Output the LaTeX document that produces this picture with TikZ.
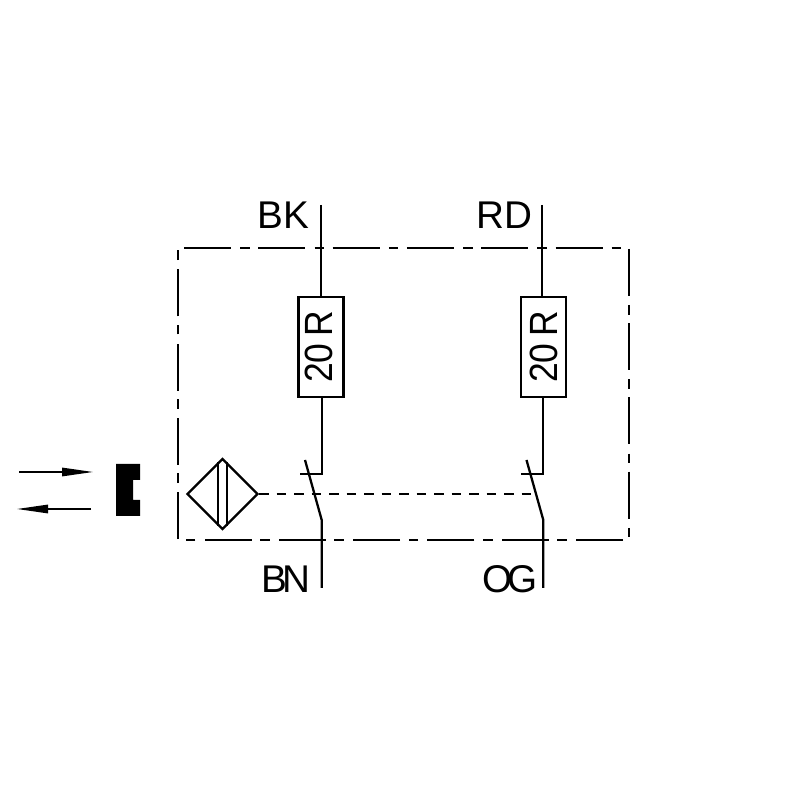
\documentclass[tikz,border=0pt]{standalone}
\usepackage{fontspec}
\setmainfont{Liberation Sans}
\newfontfamily\resfont[FakeStretch=0.9]{Liberation Sans}
\usetikzlibrary{arrows.meta,calc,shapes.geometric}
\tikzset{
  wire/.style={line width=0.65pt},
  frameline/.style={line width=0.42pt,dash pattern=on 0.47cm off 0.092cm on 0.096cm off 0.085cm,dash phase=0.683cm},
  linkline/.style={line width=0.42pt,dash pattern=on 0.095cm off 0.08cm},
  resistor/.style={draw,wire,rectangle,rotate=90,minimum width=1.005cm,minimum height=0.45cm,inner sep=0pt,font=\fontsize{11.2}{12}\resfont},
  wirelabel/.style={anchor=base east,inner sep=0pt,font=\fontsize{11}{12}\selectfont},
  motion/.style={line width=0.4pt,-{Triangle[length=0.31cm,width=0.085cm]}}
}
\begin{document}
\begin{tikzpicture}
\useasboundingbox (0,0) rectangle (8,8);
\coordinate (topA) at (3.21,5.95);
\coordinate (topB) at (5.42,5.95);
\coordinate (cornerA) at (3.217,3.26);
\coordinate (cornerB) at (5.433,3.26);
\coordinate (stubA) at (3.00,3.26);
\coordinate (stubB) at (5.21,3.26);
\coordinate (tipA) at (3.05,3.40);
\coordinate (tipB) at (5.265,3.40);
\coordinate (pivotA) at (3.217,2.80);
\coordinate (pivotB) at (5.433,2.80);
\coordinate (endA) at (3.217,2.12);
\coordinate (endB) at (5.433,2.12);
\coordinate (linkB) at (5.33,3.06);
\draw[frameline] (1.78,5.52) -- (6.29,5.52) -- (6.29,2.60) -- (1.78,2.60) -- cycle;
\node[resistor] (resA) at (3.21,4.53) {\raisebox{0.04cm}{20\kern0.07cm R}};
\node[resistor] (resB) at (5.435,4.53) {20\kern0.07cm R};
\draw[wire] (topA) -- (resA.east);
\draw[wire] (topB) -- (topB |- resB.east);
\draw[wire] (cornerA |- resA.west) -- (cornerA) -- (stubA);
\draw[wire] (cornerB |- resB.west) -- (cornerB) -- (stubB);
\draw[wire] (tipA) -- (pivotA) -- (endA);
\draw[wire] (tipB) -- (pivotB) -- (endB);
\node[draw,wire,diamond,aspect=1,minimum width=0.71cm,minimum height=0.71cm,inner sep=0pt] (sensor) at (2.225,3.06) {};
\draw[wire] ($(sensor.north)+(-0.045,-0.045)$) -- ($(sensor.south)+(-0.045,0.045)$);
\draw[wire] ($(sensor.north)+(0.045,-0.045)$) -- ($(sensor.south)+(0.045,0.045)$);
\draw[linkline] (sensor.east) -- (linkB);
\node[wirelabel] (labelBK) at (3.095,5.71) {BK};
\node[wirelabel] (labelRD) at (5.335,5.71) {RD};
\node[wirelabel] (labelBN) at (3.115,2.07) {B\kern-0.04cm N};
\node[wirelabel] (labelOG) at (5.385,2.07) {O\kern-0.05cm G};
\coordinate (inStart) at (0.19,3.28);
\coordinate (inEnd) at (0.93,3.28);
\coordinate (outStart) at (0.91,2.91);
\coordinate (outEnd) at (0.17,2.91);
\draw[motion] (inStart) -- (inEnd);
\draw[motion] (outStart) -- (outEnd);
\fill (1.16,3.36) -- (1.40,3.36) -- (1.40,3.20) -- (1.33,3.20) -- (1.33,3.00) -- (1.40,3.00) -- (1.40,2.84) -- (1.16,2.84) -- cycle;
\end{tikzpicture}
\end{document}
